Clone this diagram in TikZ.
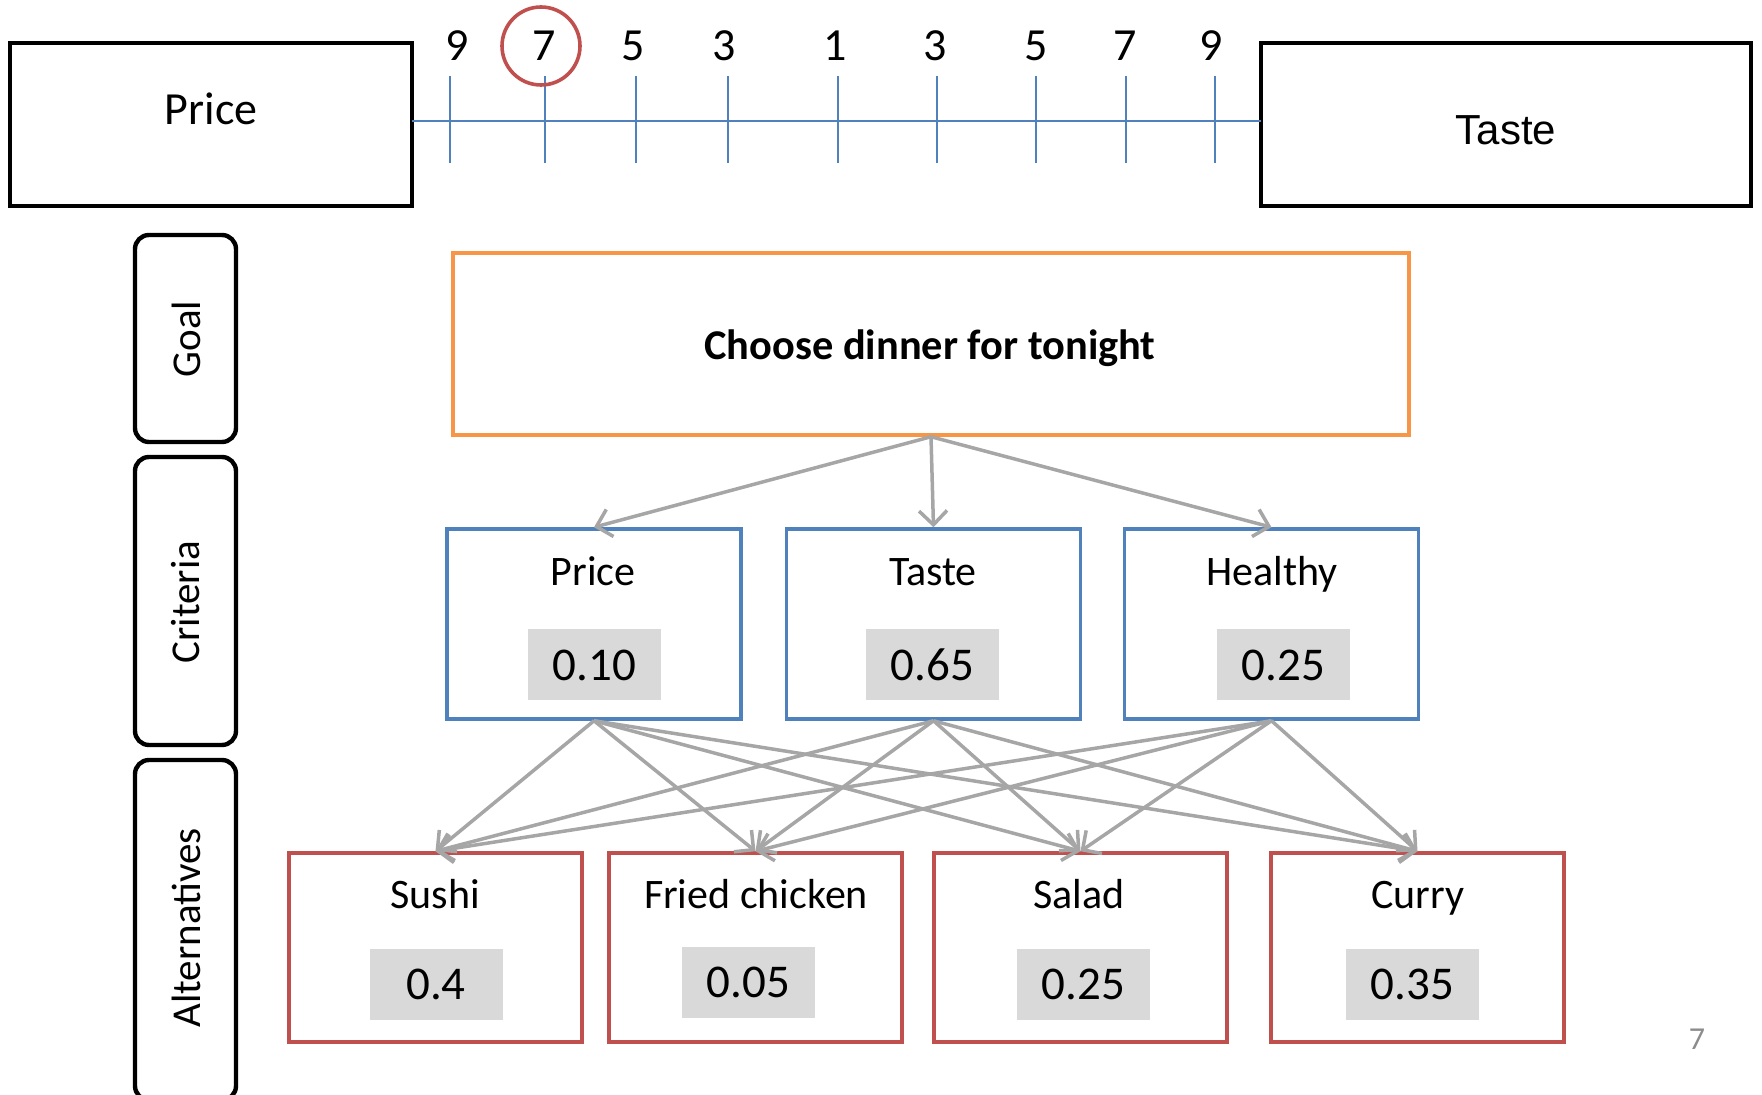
\documentclass[tikz,border=0pt]{standalone}
\usepackage{fontspec}
\setmainfont{Carlito}
\newfontfamily\arialfont{Liberation Sans}
\usetikzlibrary{arrows.meta}

\definecolor{goalorange}{HTML}{F79646}
\definecolor{critblue}{HTML}{4F81BD}
\definecolor{altred}{HTML}{C0504D}
\definecolor{linkgray}{HTML}{A6A6A6}
\definecolor{valgray}{HTML}{D9D9D9}
\definecolor{pagegray}{HTML}{8C8C8C}

\begin{document}
\begin{tikzpicture}[x=0.5pt,y=-0.5pt,
    topbox/.style={draw=black,line width=2pt,minimum width=#1,minimum height=81.5pt,inner sep=0pt},
    sidebox/.style={draw=black,line width=2.2pt,rounded corners=7pt,minimum width=50.5pt,minimum height=#1,inner sep=0pt},
    goalbox/.style={draw=goalorange,line width=1.75pt,minimum width=478pt,minimum height=91pt,inner sep=0pt},
    critbox/.style={draw=critblue,line width=1.75pt,minimum width=147pt,minimum height=95pt,inner sep=0pt},
    altbox/.style={draw=altred,line width=1.75pt,minimum width=146.5pt,minimum height=94.5pt,inner sep=0pt},
    valbox/.style={fill=valgray,minimum width=66.5pt,minimum height=35.5pt,inner sep=0pt,font=\fontsize{23.5}{28}\selectfont},
    boxlabel/.style={font=\fontsize{21}{25}\selectfont,text height=0.75em,text depth=0pt,inner sep=0pt},
    sidelabel/.style={rotate=90,font=\fontsize{20.5}{24}\selectfont},
    scalenum/.style={font=\fontsize{23}{27}\selectfont},
    link/.style={draw=linkgray,line width=1.75pt,-{Straight Barb[length=7pt,width=14pt]}}]
    \useasboundingbox (0,0) rectangle (1762,1095);

    % Comparison scale between Price and Taste
    \node[topbox=201pt] (pricebox) at (211,124.5) {};
    \node[font=\fontsize{23}{27}\selectfont] (pricetext) at (211,109) {Price};
    \node[topbox=245pt] (tastebox) at (1506,124.5) {};
    \node[font=\arialfont\fontsize{21}{25}\selectfont] (tastetext) at (1506,130) {Taste};
    \coordinate (scaleleft) at (412,121);
    \coordinate (scaleright) at (1261,121);
    \draw[critblue,line width=1pt] (scaleleft) -- (scaleright);
    \foreach \tx/\lx/\num/\i in {449.5/457/9/1,545/544/7/2,636/633/5/3,728/724/3/4,838/835/1/5,
                                 937/935/3/6,1036/1036/5/7,1126/1125/7/8,1215/1211/9/9}{
        \draw[critblue,line width=1pt] (\tx,76) -- (\tx,163);
        \node[scalenum] (num\i) at (\lx,46) {\num};
    }

    % Marking the chosen value by circle
    \node[draw=altred,line width=1.8pt,circle,minimum size=39pt,inner sep=0pt] (pick) at (541,46) {};

    % Level boxes on the left
    \node[sidebox=103.5pt] (goalside) at (185.5,338.5) {};
    \node[sidelabel] (goalname) at (186,339) {Goal};
    \node[sidebox=144pt] (critside) at (185.5,601) {};
    \node[sidelabel] (critname) at (186,602) {Criteria};
    \node[sidebox=170pt] (altside) at (185.5,930) {};
    \node[sidelabel] (altname) at (186,928) {Alternatives};

    % Goal
    \node[goalbox] (goal) at (931,344) {};
    \node[font=\bfseries\fontsize{21.2}{25}\selectfont] (goaltext) at (930,348) {Choose dinner for tonight};

    % Criteria
    \node[critbox] (crit1) at (594,624) {};
    \node[boxlabel] (critname1) at (593,578) {Price};
    \node[valbox] (critval1) at (594.5,665) {0.10};
    \node[critbox] (crit2) at (933.5,624) {};
    \node[boxlabel] (critname2) at (933,578) {Taste};
    \node[valbox] (critval2) at (932.5,665) {0.65};
    \node[critbox] (crit3) at (1271.5,624) {};
    \node[boxlabel] (critname3) at (1272,578) {Healthy};
    \node[valbox] (critval3) at (1283.5,665) {0.25};

    % Alternatives
    \node[altbox] (alt1) at (435.5,947.5) {};
    \node[boxlabel] (altname1) at (435,901) {Sushi};
    \node[valbox] (altval1) at (436,984) {0.4};
    \node[altbox] (alt2) at (755.5,947.5) {};
    \node[boxlabel] (altname2) at (756,901) {Fried chicken};
    \node[valbox] (altval2) at (748.5,982) {0.05};
    \node[altbox] (alt3) at (1080.5,947.5) {};
    \node[boxlabel] (altname3) at (1079,901) {Salad};
    \node[valbox] (altval3) at (1083.5,984) {0.25};
    \node[altbox] (alt4) at (1417.5,947.5) {};
    \node[boxlabel] (altname4) at (1418,901) {Curry};
    \node[valbox] (altval4) at (1412.5,984) {0.35};

    % Drawing links goal -> criteria
    \foreach \c in {1,2,3}{
        \draw[link] (goal.south) -- (crit\c.north);
    }

    % Drawing links criteria -> alternatives
    \foreach \c in {1,2,3}{
        \foreach \a in {1,2,3,4}{
            \draw[link] (crit\c.south) -- (alt\a.north);
        }
    }

    % Page number
    \node[text=pagegray,font=\fontsize{16}{19}\selectfont] (pagenum) at (1697,1039) {7};
\end{tikzpicture}
\end{document}
